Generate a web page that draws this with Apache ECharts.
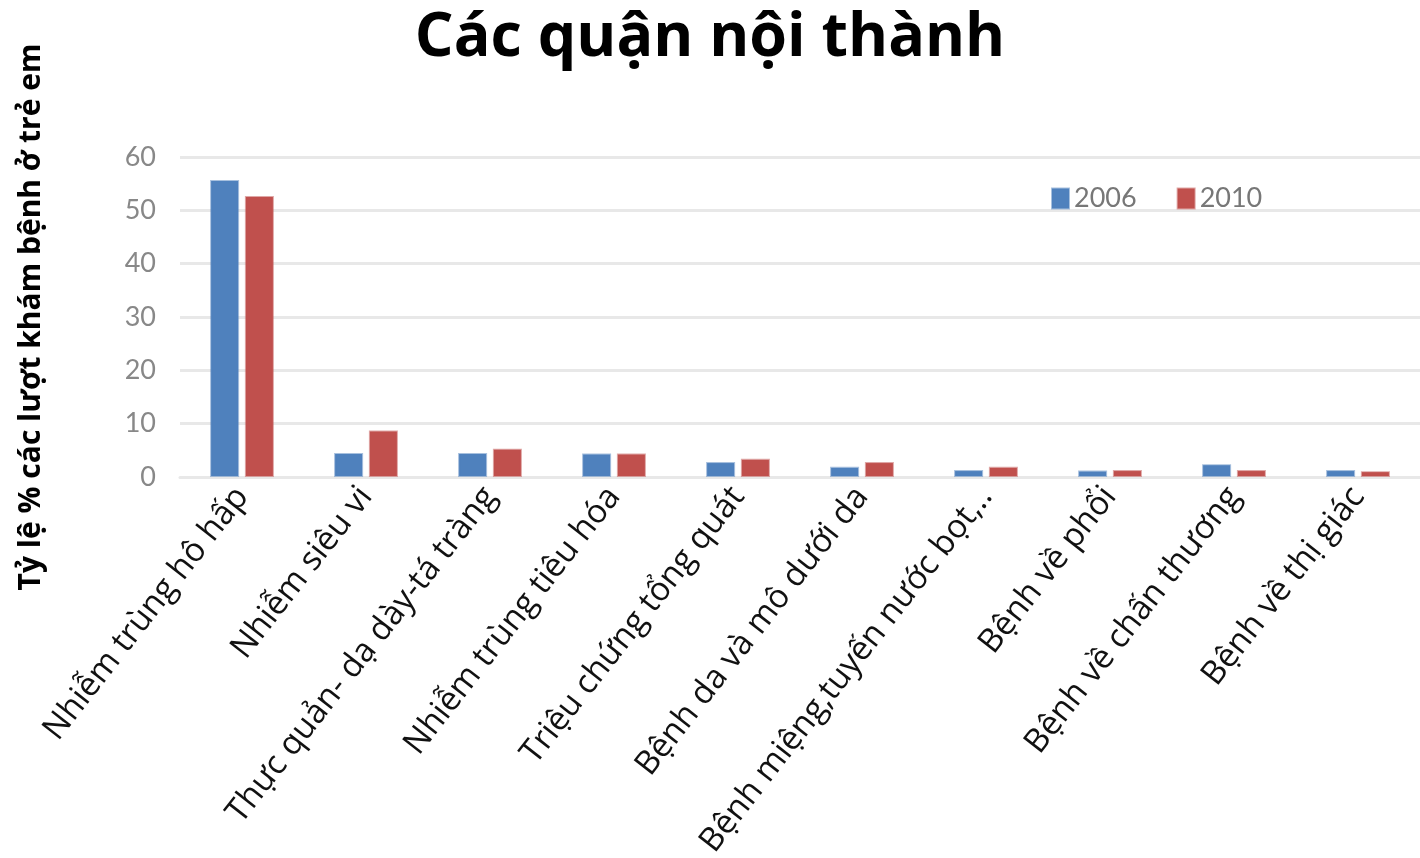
<!DOCTYPE html>
<html>
<head>
<meta charset="utf-8">
<script src="https://cdn.jsdelivr.net/npm/echarts@6/dist/echarts.min.js"></script>
<style>
  html, body { margin: 0; padding: 0; background: #fff; }
  #chart { width: 1420px; height: 858px; }
</style>
</head>
<body>
<div id="chart"></div>
<script>
// dữ liệu
const categories = [
  'Nhiễm trùng hô hấp',
  'Nhiễm siêu vi',
  'Thực quản- dạ dày-tá tràng',
  'Nhiễm trùng tiêu hóa',
  'Triệu chứng tổng quát',
  'Bệnh da và mô dưới da',
  'Bệnh miệng,tuyến nước bọt,..',
  'Bệnh về phổi',
  'Bệnh về chấn thương',
  'Bệnh về thị giác'
];
const values2006 = [55.7, 4.5, 4.5, 4.4, 2.8, 1.9, 1.3, 1.2, 2.4, 1.3];
const values2010 = [52.7, 8.7, 5.3, 4.4, 3.4, 2.8, 1.9, 1.3, 1.3, 1.1];
const yTicks = { min: 0, max: 60, interval: 10 };

const FONT = 'Open Sans';
const chart = echarts.init(document.getElementById('chart'));

const option = {
  animation: false,
  title: {
    text: 'Các quận nội thành',
    left: 'center',
    top: 2,
    textStyle: { fontFamily: FONT, fontSize: 61, fontWeight: 'bold', color: '#000', lineHeight: 64 }
  },
  legend: {
    left: 1046,
    top: 180,
    itemWidth: 17,
    itemHeight: 20,
    itemGap: 40,
    icon: 'rect',
    textStyle: { fontFamily: 'Lato', fontSize: 27, color: '#777' },
    data: ['2006', '2010']
  },
  grid: { left: 180, right: 0, top: 157, bottom: 381, containLabel: false, outerBoundsMode: 'none' },
  xAxis: {
    type: 'category',
    data: categories,
    axisLine: { show: true, lineStyle: { color: '#e8e8e8', width: 3 } },
    axisTick: { show: false },
    axisLabel: {
      interval: 0,
      rotate: 52,
      margin: 14,
      fontFamily: FONT,
      fontSize: 33,
      color: '#111'
    }
  },
  yAxis: {
    type: 'value',
    min: yTicks.min,
    max: yTicks.max,
    interval: yTicks.interval,
    name: 'Tỷ lệ % các lượt khám bệnh ở trẻ em',
    nameLocation: 'middle',
    nameGap: 134,
    nameTextStyle: { fontFamily: FONT, fontSize: 30, fontWeight: 'bold', color: '#000' },
    axisLine: { show: false },
    axisTick: { show: false },
    axisLabel: { fontFamily: 'Lato', fontSize: 27, color: '#888', margin: 24 },
    splitLine: { lineStyle: { color: '#e8e8e8', width: 3 } }
  },
  series: [
    {
      name: '2006',
      type: 'bar',
      data: values2006,
      barWidth: 29,
      barGap: '20%',
      itemStyle: { color: '#4f81bd', borderColor: 'rgba(79,129,189,0.5)', borderWidth: 2 }
    },
    {
      name: '2010',
      type: 'bar',
      data: values2010,
      barWidth: 29,
      itemStyle: { color: '#c0504d', borderColor: 'rgba(192,80,77,0.5)', borderWidth: 2 }
    }
  ]
};

chart.setOption(option);
window.addEventListener('resize', function () { chart.resize(); });
</script>
</body>
</html>
